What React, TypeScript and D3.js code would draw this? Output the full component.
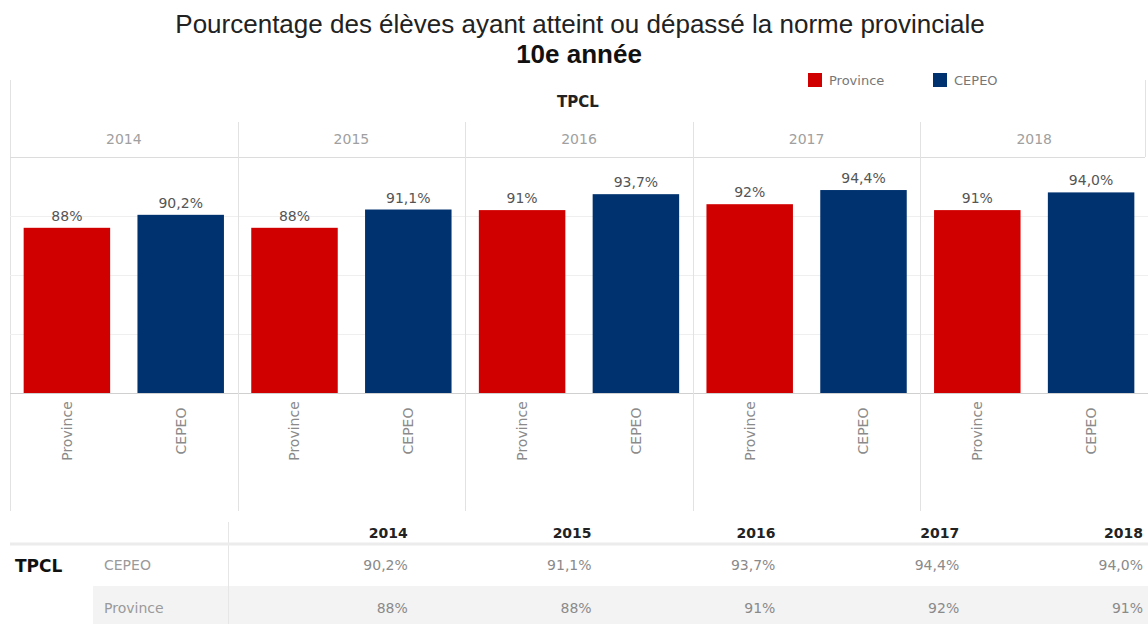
import React from "react";
import * as d3 from "d3";

const years = ["2014", "2015", "2016", "2017", "2018"];
const seriesNames = ["Province", "CEPEO"];
const provinceValues = [88, 88, 91, 92, 91];
const cepeoValues = [90.2, 91.1, 93.7, 94.4, 94.0];
const yTicks = [60, 70, 80, 90, 100];
const tableRows = ["CEPEO", "Province"];

const colors: Record<string, string> = { Province: "#d10000", CEPEO: "#00326f" };

const W = 1148;
const H = 624;
const FONT = "'DejaVu Sans', sans-serif";
const TITLE_FONT = "'Liberation Sans', Arial, sans-serif";

const locale = d3.formatLocale({ decimal: ",", thousands: " ", grouping: [3], currency: ["", "$"] });
const fmtProv = (v: number) => locale.format(".0f")(v) + "%";
const fmtCepeo = (v: number) => locale.format(".1f")(v) + "%";

const valuesBySeries: Record<string, number[]> = { Province: provinceValues, CEPEO: cepeoValues };
const fmtBySeries: Record<string, (v: number) => string> = { Province: fmtProv, CEPEO: fmtCepeo };

export default function App() {
  const x0 = d3.scaleBand<string>().domain(years).range([10, W]).paddingInner(0).paddingOuter(0);
  const x1 = d3
    .scaleBand<string>()
    .domain(seriesNames)
    .range([0, x0.bandwidth()])
    .paddingInner(0.24)
    .paddingOuter(0.12);
  const y = d3.scaleLinear().domain([60, 100]).range([393, 157]);

  const tx = d3.scaleBand<string>().domain(years).range([226, 1145]);

  const labelGray = "#8a8a8a";

  return (
    <svg
      width={W}
      height={H}
      style={{ position: "absolute", left: 0, top: 0, background: "#fff" }}
    >
      {/* Title */}
      <text x={580} y={33} textAnchor="middle" fontFamily={TITLE_FONT} fontSize={26} fill="#222">
        Pourcentage des élèves ayant atteint ou dépassé la norme provinciale
      </text>
      <text x={579} y={63} textAnchor="middle" fontFamily={TITLE_FONT} fontSize={26} fontWeight="bold" fill="#111">
        10e année
      </text>

      {/* Legend */}
      {seriesNames.map((s, i) => {
        const lx = i === 0 ? 808 : 933;
        return (
          <g key={s}>
            <rect x={lx} y={73} width={14} height={14} fill={colors[s]} />
            <text x={lx + 21} y={80} dy="0.35em" fontFamily={FONT} fontSize={13} fill="#777">
              {s}
            </text>
          </g>
        );
      })}

      {/* Frame lines */}
      <line x1={10.5} x2={10.5} y1={80} y2={511} stroke="#e2e2e2" />
      <line x1={1145.5} x2={1145.5} y1={80} y2={157} stroke="#e2e2e2" />
      <text x={578} y={102} dy="0.35em" textAnchor="middle" fontFamily={FONT} fontSize={15} fontWeight="bold" fill="#222">
        TPCL
      </text>

      {/* Gridlines */}
      {yTicks.map((t) => (
        <line
          key={t}
          x1={10}
          x2={t === 100 ? 1145 : W}
          y1={Math.round(y(t)) + 0.5}
          y2={Math.round(y(t)) + 0.5}
          stroke={t === 60 ? "#d0d0d0" : t === 100 ? "#dcdcdc" : "#efefef"}
        />
      ))}

      {/* Panel separators and year headers */}
      {years.map((yr, i) => (
        <g key={yr}>
          {i > 0 && (
            <line
              x1={Math.round(x0(yr)!) + 0.5}
              x2={Math.round(x0(yr)!) + 0.5}
              y1={122}
              y2={511}
              stroke="#e2e2e2"
            />
          )}
          <text
            x={x0(yr)! + x0.bandwidth() / 2}
            y={139}
            dy="0.35em"
            textAnchor="middle"
            fontFamily={FONT}
            fontSize={14}
            fill="#a0a0a0"
          >
            {yr}
          </text>
        </g>
      ))}

      {/* Bars */}
      {years.map((yr, i) =>
        seriesNames.map((s) => {
          const v = valuesBySeries[s][i];
          const bx = x0(yr)! + x1(s)!;
          const cx = bx + x1.bandwidth() / 2;
          return (
            <g key={yr + s}>
              <rect x={bx} y={y(v)} width={x1.bandwidth()} height={y(60) - y(v)} fill={colors[s]} />
              <text x={cx} y={y(v) - 7} textAnchor="middle" fontFamily={FONT} fontSize={14} fill="#555">
                {fmtBySeries[s](v)}
              </text>
              <text
                transform={`translate(${cx},${431}) rotate(-90)`}
                dy="0.35em"
                textAnchor="middle"
                fontFamily={FONT}
                fontSize={14}
                fill={labelGray}
              >
                {s}
              </text>
            </g>
          );
        })
      )}

      {/* Table */}
      <rect x={93} y={586} width={W - 93} height={H - 586} fill="#f3f3f3" />
      <line x1={228.5} x2={228.5} y1={522} y2={H} stroke="#e6e6e6" />
      <line x1={10} x2={W} y1={544} y2={544} stroke="#ececec" strokeWidth={3} />
      <text x={15} y={566} dy="0.35em" fontFamily={FONT} fontSize={17} fontWeight="bold" fill="#111">
        TPCL
      </text>
      {tableRows.map((r, ri) => (
        <text
          key={r}
          x={104}
          y={ri === 0 ? 565 : 608}
          dy="0.35em"
          fontFamily={FONT}
          fontSize={14}
          fill="#9a9a9a"
        >
          {r}
        </text>
      ))}
      {years.map((yr, i) => {
        const rx = tx(yr)! + tx.bandwidth() - 2;
        return (
          <g key={"t" + yr}>
            <text x={rx} y={533} dy="0.35em" textAnchor="end" fontFamily={FONT} fontSize={14} fontWeight="bold" fill="#222">
              {yr}
            </text>
            {tableRows.map((r, ri) => (
              <text
                key={r}
                x={rx}
                y={ri === 0 ? 565 : 608}
                dy="0.35em"
                textAnchor="end"
                fontFamily={FONT}
                fontSize={14}
                fill="#8a8a8a"
              >
                {fmtBySeries[r](valuesBySeries[r][i])}
              </text>
            ))}
          </g>
        );
      })}
    </svg>
  );
}
